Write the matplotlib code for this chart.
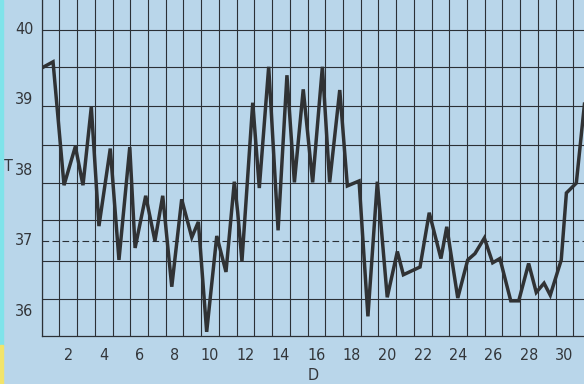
import matplotlib
matplotlib.use("Agg")
from matplotlib import pyplot as plt
from matplotlib.patches import Rectangle

# temperature curve (day, degrees)
days = [0.48, 1.14, 1.76, 2.40, 2.83, 3.30, 3.73, 4.37, 4.86, 5.47,
        5.77, 6.37, 6.89, 7.33, 7.84, 8.40, 8.97, 9.34, 9.81, 10.38,
        10.90, 11.37, 11.56, 11.80, 12.41, 12.78, 13.31, 13.84, 14.34, 14.76,
        15.26, 15.79, 16.34, 16.75, 17.32, 17.75, 18.41, 18.91, 19.44, 20.00,
        20.57, 20.91, 21.85, 22.37, 23.03, 23.36, 23.98, 24.54, 24.95, 25.48,
        25.95, 26.36, 26.97, 27.42, 27.98, 28.41, 28.85, 29.20, 29.82, 30.11,
        30.67, 31.13]
temps = [39.43, 39.52, 37.77, 38.32, 37.77, 38.88, 37.19, 38.29, 36.71, 38.31,
         36.88, 37.62, 36.98, 37.62, 36.33, 37.57, 37.03, 37.25, 35.69, 37.05,
         36.54, 37.82, 37.39, 36.69, 38.94, 37.73, 39.45, 37.13, 39.33, 37.81,
         39.13, 37.81, 39.45, 37.81, 39.12, 37.76, 37.83, 35.91, 37.82, 36.18,
         36.83, 36.50, 36.61, 37.38, 36.73, 37.18, 36.17, 36.71, 36.80, 37.02,
         36.67, 36.73, 36.13, 36.13, 36.66, 36.25, 36.38, 36.21, 36.71, 37.66,
         37.80, 38.92]

day_ticks = list(range(2, 31, 2))
temp_ticks = [36, 37, 38, 39, 40]
hlines = [39.97, 39.44, 38.89, 38.34, 37.80, 37.28, 36.70, 36.16]
ref_line = 36.98

bg = "#b9d6ea"
ink = "#2b3036"
txt = dict(family="DejaVu Sans", fontstretch="condensed", fontsize=11.5, color="#33363a")

fig = plt.figure(figsize=(5.84, 3.84), dpi=100, facecolor=bg)
ax = fig.add_axes([41.7 / 584, 48 / 384, 1 - 41.7 / 584, 1 - 48 / 384])
ax.set_facecolor(bg)

# grid of the chart paper
for k in range(31):
    ax.axvline(k + 0.5, color=ink, lw=0.8, zorder=1)
for h in hlines:
    ax.axhline(h, color=ink, lw=0.8, zorder=1)
ax.axhline(ref_line, color=ink, lw=0.8, ls=(0, (6, 3)), zorder=1)

ax.plot(days, temps, color="#303234", lw=2.5, solid_joinstyle="miter", zorder=3)

ax.set_xlim(0.5, 0.5 + (584 - 41.7) / 17.72)
ax.set_ylim(40 - 308 / 70.5, 40 + 28 / 70.5)

for s in ("top", "right"):
    ax.spines[s].set_visible(False)
for s in ("left", "bottom"):
    ax.spines[s].set_color(ink)
    ax.spines[s].set_linewidth(0.9)

ax.set_xticks(day_ticks)
ax.set_xticklabels([str(d) for d in day_ticks], **txt)
ax.set_yticks(temp_ticks)
ax.set_yticklabels([str(t) for t in temp_ticks], **txt)
ax.tick_params(axis="x", length=0, pad=9)
ax.tick_params(axis="y", length=0, pad=6)

ax.set_xlabel("D", va="center", **txt)
ax.set_ylabel("T", rotation=0, va="center", ha="center", **txt)
ax.xaxis.set_label_coords(0.5, -0.118)
ax.yaxis.set_label_coords(-0.0616, 0.503)

# scan edges
fig.patches.append(Rectangle((0, 39 / 384), 2.5 / 584, 345 / 384, transform=fig.transFigure,
                             color="#7fe3ea", zorder=0))
fig.patches.append(Rectangle((0, 0), 3 / 584, 39 / 384, transform=fig.transFigure,
                             color="#f2e46a", zorder=0))

fig.savefig("out.png", dpi=100, facecolor=bg)
